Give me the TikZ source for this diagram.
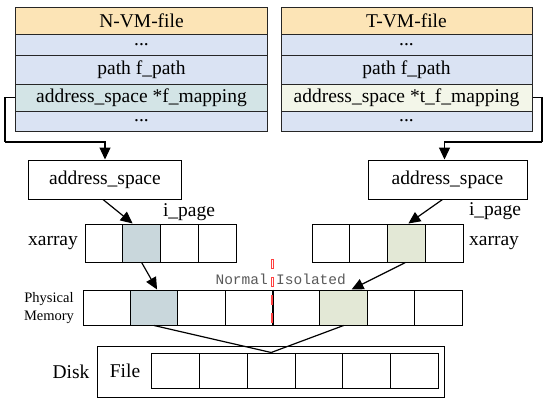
\documentclass[tikz,border=0pt]{standalone}
\usepackage{fontspec}
\setmainfont{Liberation Serif}
\setmonofont{Liberation Mono}
\usetikzlibrary{arrows.meta}
\definecolor{hdr}{HTML}{FCE4B6}
\definecolor{rowb}{HTML}{DAE3F3}
\definecolor{lmap}{HTML}{D3E4E6}
\definecolor{rmap}{HTML}{F3F6E9}
\definecolor{lcell}{HTML}{C9D7DC}
\definecolor{rcell}{HTML}{E3E8D6}
\begin{document}
\begin{tikzpicture}[x=1bp,y=-1bp,
  font=\fontsize{19.5bp}{22bp}\selectfont,
  trow/.style={draw=black!85, line width=1bp, minimum width=251bp, inner sep=0pt},
  abox/.style={draw, line width=1bp, minimum height=39bp, inner sep=0pt},
  xcell/.style={draw, line width=1bp, minimum width=37.75bp, minimum height=38bp, inner sep=0pt},
  pmcell/.style={draw, line width=1bp, minimum width=47.375bp, minimum height=35bp, inner sep=0pt},
  fcell/.style={draw, line width=1bp, minimum width=47.67bp, minimum height=35bp, inner sep=0pt},
  lbl/.style={inner sep=0pt},
  arr/.style={-{Triangle[length=12bp,width=11bp]}, line width=1.2bp},
  conn/.style={line width=1.2bp},
  mono/.style={font=\ttfamily\fontsize{14.5bp}{16bp}\selectfont, text=black!65, inner sep=0pt}
]
\useasboundingbox (0,0) rectangle (550,404);

% left table
\node[trow, fill=hdr, minimum height=27bp] (nh) at (141.5,20.5) {N-VM-file};
\node[trow, fill=rowb, minimum height=21bp] (nd1) at (141.5,44.5) {...};
\node[trow, fill=rowb, minimum height=29bp] (np) at (141.5,69.5) {path f\_path};
\node[trow, fill=lmap, minimum height=27bp] (nmap) at (141.5,97.5) {address\_space *f\_mapping};
\node[trow, fill=rowb, minimum height=20bp] (nd2) at (141.5,121) {...};

% right table
\node[trow, fill=hdr, minimum height=27bp] (th) at (406.5,20.5) {T-VM-file};
\node[trow, fill=rowb, minimum height=21bp] (td1) at (406.5,44.5) {...};
\node[trow, fill=rowb, minimum height=29bp] (tp) at (406.5,69.5) {path f\_path};
\node[trow, fill=rmap, minimum height=27bp] (tmap) at (406.5,97.5) {address\_space *t\_f\_mapping};
\node[trow, fill=rowb, minimum height=20bp] (td2) at (406.5,121) {...};

% address space boxes
\node[abox, minimum width=152bp] (la) at (105,179.5) {address\_space};
\node[abox, minimum width=159bp] (ra) at (447.5,179.5) {address\_space};

\coordinate (lbend) at (5,142);
\coordinate (rbend) at (542,142);
\draw[conn] (nmap.west) -| (lbend);
\draw[arr] (lbend) -| (la.north);
\draw[conn] (tmap.east) -| (rbend);
\draw[arr] (rbend) -| ([xshift=-3bp]ra.north);

% left xarray
\node[xcell] (lx1) at (103.875,243) {};
\node[xcell, fill=lcell] (lx2) at (141.625,243) {};
\node[xcell] (lx3) at (179.375,243) {};
\node[xcell] (lx4) at (217.125,243) {};
\node[lbl] (lxl) at (53,243) {xarray};
\node[lbl] (lip) at (189,212) {i\_page};

% right xarray
\node[xcell] (rx1) at (330.875,243) {};
\node[xcell] (rx2) at (368.625,243) {};
\node[xcell, fill=rcell] (rx3) at (406.375,243) {};
\node[xcell] (rx4) at (444.125,243) {};
\node[lbl] (rxl) at (494,243) {xarray};
\node[lbl] (rip) at (495,211) {i\_page};

% physical memory
\node[pmcell] (pm1) at (106.69,307.5) {};
\node[pmcell, fill=lcell] (pm2) at (154.06,307.5) {};
\node[pmcell] (pm3) at (201.44,307.5) {};
\node[pmcell] (pm4) at (248.81,307.5) {};
\node[pmcell] (pm5) at (296.19,307.5) {};
\node[pmcell, fill=rcell] (pm6) at (343.56,307.5) {};
\node[pmcell] (pm7) at (390.94,307.5) {};
\node[pmcell] (pm8) at (438.31,307.5) {};
\node[lbl, align=center, font=\fontsize{14.5bp}{17.5bp}\selectfont] (pml) at (49,308) {Physical\\Memory};

% arrows to xarray and memory
\draw[arr] ([xshift=-2bp]la.south) -- ([xshift=-9bp]lx2.north);
\draw[arr] (lx2.south) -- ([xshift=3bp]pm2.north);
\draw[arr] ([xshift=-5bp]ra.south) -- ([xshift=2bp]rx3.north);
\draw[arr] ([xshift=-1bp]rx3.south) -- ([xshift=8bp]pm6.north);

% normal / isolated divider
\draw[red!75, line width=3bp, dash pattern=on 10bp off 8bp] (272.5,259) -- (272.5,326);
\draw[white, line width=1.3bp, dash pattern=on 8bp off 10bp] (272.5,260) -- (272.5,290);
\draw[line width=1bp] (pm4.north east) -- (pm4.south east);
\node[mono, anchor=east] (nrm) at (268,279) {Normal};
\node[mono, anchor=west] (iso) at (276,279) {Isolated};

% disk
\node[draw, line width=1bp, minimum width=346bp, minimum height=51bp] (disk) at (271,371.5) {};
\node[lbl] (dkl) at (71,372) {Disk};
\node[lbl] (fl) at (125,371) {File};
\node[fcell] (f1) at (175.83,370.5) {};
\node[fcell] (f2) at (223.5,370.5) {};
\node[fcell] (f3) at (271.17,370.5) {};
\node[fcell] (f4) at (318.83,370.5) {};
\node[fcell] (f5) at (366.5,370.5) {};
\node[fcell] (f6) at (414.17,370.5) {};

\draw[line width=1.2bp] (pm2.south) -- (f3.north);
\draw[line width=1.2bp] (pm6.south) -- (f3.north);
\end{tikzpicture}
\end{document}
